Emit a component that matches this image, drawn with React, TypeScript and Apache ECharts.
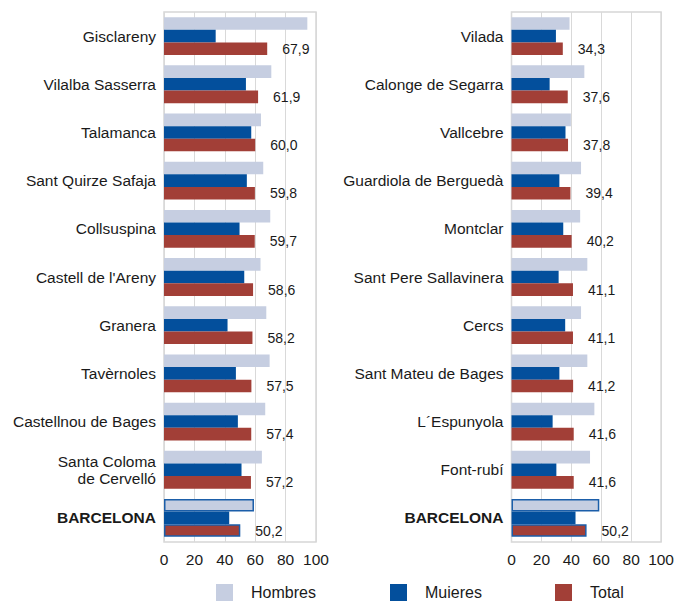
import React, { useEffect, useRef } from "react";
import * as echarts from "echarts";

const leftCategories = [
  "Gisclareny",
  "Vilalba Sasserra",
  "Talamanca",
  "Sant Quirze Safaja",
  "Collsuspina",
  "Castell de l'Areny",
  "Granera",
  "Tavèrnoles",
  "Castellnou de Bages",
  "Santa Coloma\nde Cervelló",
  "BARCELONA",
];
const leftHombres = [94.3, 70.6, 63.8, 65.3, 69.9, 63.5, 67.3, 69.5, 66.6, 64.4, 59.2];
const leftMujeres = [34.0, 53.9, 57.4, 54.5, 49.7, 52.8, 41.8, 47.3, 48.6, 51.0, 42.9];
const leftTotal = [67.9, 61.9, 60.0, 59.8, 59.7, 58.6, 58.2, 57.5, 57.4, 57.2, 50.2];

const rightCategories = [
  "Vilada",
  "Calonge de Segarra",
  "Vallcebre",
  "Guardiola de Berguedà",
  "Montclar",
  "Sant Pere Sallavinera",
  "Cercs",
  "Sant Mateu de Bages",
  "L´Espunyola",
  "Font-rubí",
  "BARCELONA",
];
const rightHombres = [38.8, 48.7, 39.7, 46.5, 45.9, 50.7, 46.5, 50.7, 55.4, 52.5, 58.7];
const rightMujeres = [29.7, 25.5, 36.1, 32.0, 34.6, 31.5, 35.9, 32.0, 27.5, 30.0, 42.8];
const rightTotal = [34.3, 37.6, 37.8, 39.4, 40.2, 41.1, 41.1, 41.2, 41.6, 41.6, 50.2];

const xTicks = [0, 20, 40, 60, 80, 100];
const seriesNames = ["Hombres", "Muieres", "Total"];

const COLORS = ["#c6cee1", "#034f9c", "#a23f37"];
const FONT = "'Liberation Sans', Arial, sans-serif";
const BORDER_BLUE = "#1b5ea9";

function withHighlight(values: number[], color: string, border: boolean) {
  return values.map((v, i) =>
    i === values.length - 1 && border
      ? { value: v, itemStyle: { color, borderColor: BORDER_BLUE, borderWidth: 1.5 } }
      : v
  );
}

export default function App() {
  const ref = useRef<HTMLDivElement>(null);

  useEffect(() => {
    if (!ref.current) return;
    const chart = echarts.init(ref.current, undefined, { renderer: "svg" });

    const grids = [
      { left: 164, width: 152, top: 12, height: 530 },
      { left: 511.5, width: 151, top: 12, height: 530 },
    ];

    const xAxes = grids.map((_, gi) => ({
      type: "value" as const,
      gridIndex: gi,
      min: xTicks[0],
      max: xTicks[xTicks.length - 1],
      interval: 20,
      axisLine: { show: false },
      axisTick: { show: false },
      splitLine: { show: true, lineStyle: { color: "#d9d9d9", width: 1 } },
      axisLabel: { fontSize: 15.5, color: "#1a1a1a", fontFamily: FONT, margin: 9 },
    }));

    const cats = [leftCategories, rightCategories];
    const yAxes = cats.map((c, gi) => ({
      type: "category" as const,
      gridIndex: gi,
      data: c,
      inverse: true,
      axisLine: { show: false },
      axisTick: { show: false },
      axisLabel: {
        fontSize: 15.5,
        color: "#1a1a1a",
        fontFamily: FONT,
        margin: 8,
        lineHeight: 17,
        formatter: (v: string) => (v === "BARCELONA" ? `{b|${v}}` : v),
        rich: { b: { fontWeight: "bold", fontSize: 15.5, fontFamily: FONT, color: "#1a1a1a" } },
      },
    }));

    const data = [
      [leftHombres, leftMujeres, leftTotal],
      [rightHombres, rightMujeres, rightTotal],
    ];

    const series: any[] = [];
    data.forEach((set, gi) => {
      set.forEach((vals, si) => {
        series.push({
          type: "bar",
          name: seriesNames[si],
          xAxisIndex: gi,
          yAxisIndex: gi,
          barWidth: 12.6,
          barGap: "0%",
          itemStyle: { color: COLORS[si] },
          data: withHighlight(vals, COLORS[si], si !== 1),
          label:
            si === 2
              ? {
                  show: true,
                  position: "right",
                  distance: 15,
                  fontSize: 14,
                  fontFamily: FONT,
                  color: "#1a1a1a",
                  formatter: (p: any) => Number(p.value).toFixed(1).replace(".", ","),
                }
              : { show: false },
        });
      });
    });

    const legendLefts = [216, 390, 555];
    const legend = seriesNames.map((n, i) => ({
      data: [n],
      left: legendLefts[i],
      top: 584,
      icon: "rect",
      itemWidth: 17,
      itemHeight: 17,
      padding: 0,
      textStyle: {
        fontSize: 16,
        color: "#1a1a1a",
        fontFamily: FONT,
        padding: [0, 0, 0, 13],
      },
      selectedMode: false,
    }));

    chart.setOption({
      animation: false,
      backgroundColor: "#ffffff",
      grid: grids.map((g) => ({ ...g, show: true, borderColor: "#d6d6d6", borderWidth: 1.5 })),
      xAxis: xAxes,
      yAxis: yAxes,
      legend,
      series,
    });

    return () => chart.dispose();
  }, []);

  return (
    <div
      ref={ref}
      style={{ position: "fixed", left: 0, top: 0, width: 677, height: 601, background: "#fff" }}
    />
  );
}
